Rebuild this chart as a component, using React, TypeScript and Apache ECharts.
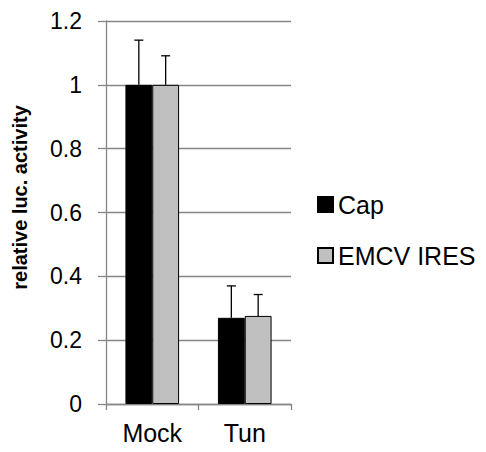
import React, { useEffect, useRef } from "react";
import * as echarts from "echarts";

const categories = ["Mock", "Tun"];
const seriesNames = ["Cap", "EMCV IRES"];
const capValues = [1.0, 0.27];
const capErrors = [0.14, 0.1];
const iresValues = [1.0, 0.276];
const iresErrors = [0.091, 0.067];
const yTicks = [0, 0.2, 0.4, 0.6, 0.8, 1, 1.2];

const colors = ["#000000", "#c0c0c0"];
const GAP = 0.42;

function errorSeries(idx: number, values: number[], errors: number[]) {
  return {
    type: "custom",
    name: seriesNames[idx] + " err",
    data: values.map((v, i) => [i, v, v + errors[i]]),
    z: 5,
    silent: true,
    renderItem: (params: any, api: any) => {
      const x = api.value(0);
      const base = api.coord([x, api.value(1)]);
      const top = api.coord([x, api.value(2)]);
      const band = api.size([1, 0])[0];
      const bw = (band * (1 - GAP)) / 2;
      const cx = base[0] - bw + bw * idx + bw / 2;
      const half = 4.5;
      return {
        type: "group",
        children: [
          { type: "line", shape: { x1: cx, y1: base[1], x2: cx, y2: top[1] }, style: { stroke: "#000", lineWidth: 1.3 } },
          { type: "line", shape: { x1: cx - half, y1: top[1], x2: cx + half, y2: top[1] }, style: { stroke: "#000", lineWidth: 1.3 } },
        ],
      };
    },
  };
}

export default function App() {
  const ref = useRef<HTMLDivElement>(null);
  useEffect(() => {
    const chart = echarts.init(ref.current!, null, { renderer: "svg" });
    chart.setOption({
      animation: false,
      textStyle: { fontFamily: "Liberation Sans, Arial, sans-serif" },
      grid: { left: 106, right: 195, top: 21, bottom: 48 },
      legend: {
        orient: "vertical",
        left: 312,
        top: 187,
        itemWidth: 15,
        itemHeight: 15,
        itemGap: 26,
        icon: "rect",
        data: seriesNames,
        textStyle: { fontSize: 25, lineHeight: 24, color: "#000" },
      },
      xAxis: {
        type: "category",
        data: categories,
        axisLine: { lineStyle: { color: "#868686", width: 1.3 } },
        axisTick: { show: true, length: 6, inside: false, lineStyle: { color: "#868686", width: 1.3 } },
        axisLabel: { fontSize: 25, color: "#000", margin: 16 },
      },
      yAxis: {
        type: "value",
        min: 0,
        max: 1.2,
        interval: 0.2,
        name: "relative luc. activity",
        nameLocation: "middle",
        nameGap: 76,
        nameTextStyle: { fontSize: 20, fontWeight: "bold", color: "#000", padding: [0, 0, 0, 30] },
        axisLine: { show: true, lineStyle: { color: "#868686", width: 1.3 } },
        axisTick: { show: true, length: 8, lineStyle: { color: "#868686", width: 1.3 } },
        splitLine: { show: true, lineStyle: { color: "#868686", width: 1.3 } },
        axisLabel: {
          fontSize: 23,
          color: "#000",
          margin: 24,
          formatter: (v: number) => (yTicks.includes(Math.round(v * 10) / 10) ? String(Math.round(v * 10) / 10) : ""),
        },
      },
      series: [
        {
          type: "bar",
          name: seriesNames[0],
          data: capValues,
          barGap: "0%",
          barCategoryGap: GAP * 100 + "%",
          itemStyle: { color: colors[0], borderColor: "#000", borderWidth: 1 },
        },
        {
          type: "bar",
          name: seriesNames[1],
          data: iresValues,
          barGap: "0%",
          barCategoryGap: GAP * 100 + "%",
          itemStyle: { color: colors[1], borderColor: "#000", borderWidth: 1 },
        },
        errorSeries(0, capValues, capErrors),
        errorSeries(1, iresValues, iresErrors),
      ],
    });
    return () => chart.dispose();
  }, []);
  return <div ref={ref} style={{ width: 486, height: 452, position: "absolute", left: 0, top: 0 }} />;
}
